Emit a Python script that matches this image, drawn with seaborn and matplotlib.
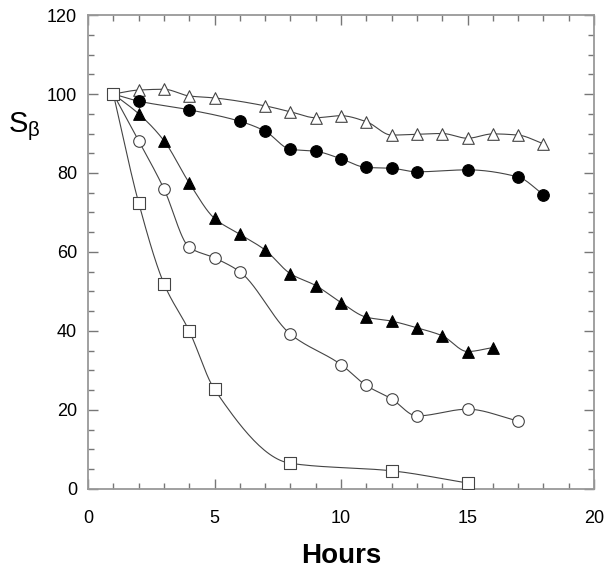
import numpy as np
import pandas as pd
import matplotlib
matplotlib.use("Agg")
import matplotlib.pyplot as plt
from matplotlib.ticker import MultipleLocator
import seaborn as sns

# data (hours, S_beta)
sq_x = [1, 2, 3, 4, 5, 8, 12, 15]
sq_y = [100, 72.5, 52, 40, 25.2, 6.5, 4.6, 1.5]

oc_x = [1, 2, 3, 4, 5, 6, 8, 10, 11, 12, 13, 15, 17]
oc_y = [100, 88.2, 76, 61.2, 58.5, 55, 39.2, 31.5, 26.2, 22.8, 18.5, 20.2, 17.2]

ft_x = [1, 2, 3, 4, 5, 6, 7, 8, 9, 10, 11, 12, 13, 14, 15, 16]
ft_y = [100, 95, 88.2, 77.5, 68.5, 64.5, 60.5, 54.5, 51.5, 47.2, 43.5, 42.5, 40.8, 38.8, 34.8, 35.8]

fc_x = [1, 2, 4, 6, 7, 8, 9, 10, 11, 12, 13, 15, 17, 18]
fc_y = [100, 98.2, 96, 93.1, 90.6, 86, 85.5, 83.6, 81.4, 81.2, 80.3, 80.8, 79, 74.5]

ot_x = [1, 2, 3, 4, 5, 7, 8, 9, 10, 11, 12, 13, 14, 15, 16, 17, 18]
ot_y = [100, 101, 101.2, 99.5, 99, 97, 95.5, 94, 94.5, 93, 89.6, 89.8, 90, 88.8, 89.9, 89.6, 87.4]


def smooth(x, y, n=30):
    # monotone cubic (Fritsch-Carlson) through the points
    x = np.asarray(x, float)
    y = np.asarray(y, float)
    h = np.diff(x)
    d = np.diff(y) / h
    m = np.zeros_like(y)
    m[0], m[-1] = d[0], d[-1]
    for k in range(1, len(x) - 1):
        if d[k - 1] * d[k] > 0:
            w1 = 2 * h[k] + h[k - 1]
            w2 = h[k] + 2 * h[k - 1]
            m[k] = (w1 + w2) / (w1 / d[k - 1] + w2 / d[k])
    xs, ys = [], []
    t = np.linspace(0, 1, n)
    h00 = 2 * t**3 - 3 * t**2 + 1
    h10 = t**3 - 2 * t**2 + t
    h01 = -2 * t**3 + 3 * t**2
    h11 = t**3 - t**2
    for i in range(len(x) - 1):
        xs.append(x[i] + t * h[i])
        ys.append(h00 * y[i] + h10 * h[i] * m[i] + h01 * y[i + 1] + h11 * h[i] * m[i + 1])
    return np.concatenate(xs), np.concatenate(ys)


sns.set_style("ticks")
plt.rcParams['font.family'] = ['Liberation Sans', 'DejaVu Sans']
plt.rcParams['mathtext.default'] = 'regular'
plt.rcParams['text.color'] = 'black'

fig = plt.figure(figsize=(6.13, 5.75), dpi=100)
ax = fig.add_axes([0.1436, 0.1496, 0.8254, 0.8243])

series = [
    (ot_x, ot_y, "^", "white"),
    (fc_x, fc_y, "o", "black"),
    (ft_x, ft_y, "^", "black"),
    (oc_x, oc_y, "o", "white"),
    (sq_x, sq_y, "s", "white"),
]

for x, y, mk, fc in series:
    xs, ys = smooth(x, y)
    ax.plot(xs, ys, color="#444444", lw=0.8, zorder=2)

for i, (x, y, mk, fc) in enumerate(series):
    df = pd.DataFrame({"h": x, "s": y})
    sns.scatterplot(data=df, x="h", y="s", marker=mk, s=70, color=fc,
                    edgecolor="#444444" if fc == "white" else "black",
                    linewidth=0.8, ax=ax, zorder=3 + i)

ax.set_xlim(0, 20)
ax.set_ylim(0, 120)
ax.xaxis.set_major_locator(MultipleLocator(5))
ax.xaxis.set_minor_locator(MultipleLocator(1))
ax.yaxis.set_major_locator(MultipleLocator(20))
ax.yaxis.set_minor_locator(MultipleLocator(5))
ax.tick_params(which="both", direction="in", top=True, right=True,
               color="#777777", labelcolor="black", labelsize=13)
ax.tick_params(axis="x", pad=15)
ax.tick_params(axis="y", pad=8)
ax.tick_params(which="major", length=7, width=1)
ax.tick_params(which="minor", length=4, width=1)
for sp in ax.spines.values():
    sp.set_color("#999999")
    sp.set_linewidth(1.3)

ax.set_xlabel("Hours", fontsize=20, fontweight="bold", labelpad=12, color="black")
ax.set_ylabel(r"S$_{\beta}$", fontsize=21, rotation=0, color="black",
              va="center", ha="center")
ax.yaxis.set_label_coords(-0.125, 0.765)

fig.savefig("out.png", dpi=100)
